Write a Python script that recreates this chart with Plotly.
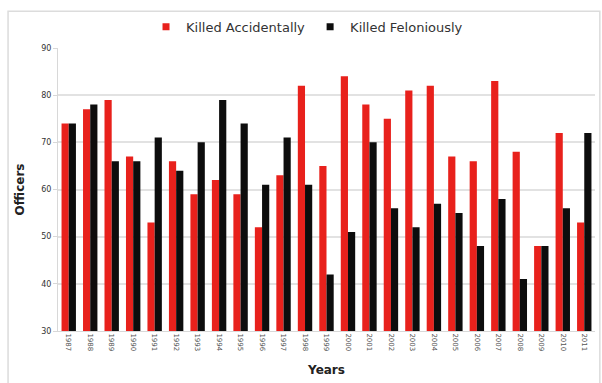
import plotly.graph_objects as go

years = [str(y) for y in range(1987, 2012)]
killed_accidentally = [74, 77, 79, 67, 53, 66, 59, 62, 59, 52, 63, 82, 65,
                       84, 78, 75, 81, 82, 67, 66, 83, 68, 48, 72, 53]
killed_feloniously = [74, 78, 66, 66, 71, 64, 70, 79, 74, 61, 71, 61, 42,
                      51, 70, 56, 52, 57, 55, 48, 58, 41, 48, 56, 72]

series = [
    ("Killed Accidentally", killed_accidentally, "#e8211c"),
    ("Killed Feloniously", killed_feloniously, "#0d0d0d"),
]

fig = go.Figure()
for name, values, color in series:
    fig.add_trace(go.Bar(x=years, y=values, name=name, legendgroup=name,
                         showlegend=False,
                         marker=dict(color=color, line=dict(width=0))))
# small square legend keys
for name, values, color in series:
    fig.add_trace(go.Scatter(x=[None], y=[None], mode="markers", name=name,
                             legendgroup=name,
                             marker=dict(symbol="square", size=7, color=color)))

# light outer frame around the whole chart
fig.add_shape(type="rect", xref="paper", yref="paper",
              x0=-0.093, x1=1.009, y0=-0.25, y1=1.13,
              line=dict(color="#dcdcdc", width=1.5), fillcolor="rgba(0,0,0,0)",
              layer="below")

fig.update_layout(
    width=602, height=383,
    margin=dict(l=58, r=7, t=48, b=52, autoexpand=False),
    paper_bgcolor="white", plot_bgcolor="white",
    barmode="group", bargap=0.33, bargroupgap=0,
    font=dict(family="DejaVu Sans, Arial, sans-serif", color="#333"),
    legend=dict(orientation="h", xref="container", x=0.51, xanchor="center",
                yref="container", y=0.93, yanchor="middle",
                bgcolor="rgba(0,0,0,0)",
                font=dict(size=13, color="#333"), itemwidth=30,
                tracegroupgap=0, traceorder="normal"),
    showlegend=True,
    xaxis=dict(
        title=dict(text="<b>Years</b>", font=dict(size=12, color="#222"), standoff=14),
        tickangle=90, tickfont=dict(size=7, color="#555"),
        showline=True, linecolor="#d8d8d8", linewidth=1,
        ticks="", showgrid=False,
    ),
    yaxis=dict(
        title=dict(text="<b>Officers</b>", font=dict(size=12, color="#222"), standoff=14),
        range=[30, 90], dtick=10, tickfont=dict(size=8, color="#333"),
        showgrid=True, gridcolor="#e2e2e2", gridwidth=1.5,
        showline=True, linecolor="#d8d8d8", linewidth=1,
        ticks="outside", ticklen=4, tickcolor="#d8d8d8",
        zeroline=False,
    ),
)

fig.write_html("out.html")
